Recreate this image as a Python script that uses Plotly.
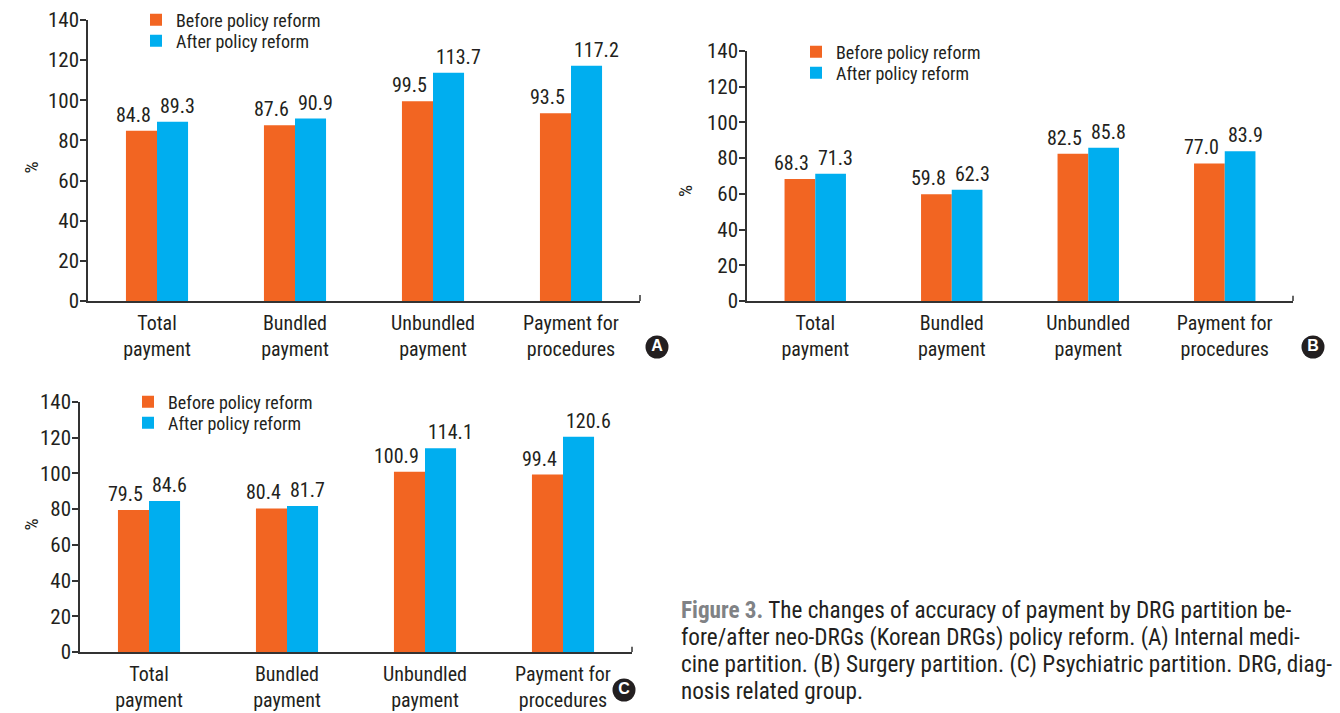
import plotly.graph_objects as go

categories = ["Total<br>payment", "Bundled<br>payment", "Unbundled<br>payment", "Payment for<br>procedures"]
a_before = [84.8, 87.6, 99.5, 93.5]
a_after = [89.3, 90.9, 113.7, 117.2]
b_before = [68.3, 59.8, 82.5, 77.0]
b_after = [71.3, 62.3, 85.8, 83.9]
c_before = [79.5, 80.4, 100.9, 99.4]
c_after = [84.6, 81.7, 114.1, 120.6]
y_ticks = [0, 20, 40, 60, 80, 100, 120, 140]
series_names = ["Before policy reform", "After policy reform"]
panel_letters = ["A", "B", "C"]

W, H = 1340, 713
FONT = "Liberation Sans Narrow, Roboto Condensed, Arial Narrow, Liberation Sans, sans-serif"
TXT = "#231f20"
ORANGE = "#F26522"
BLUE = "#00AEEF"

def px(x):
    return x / W

def py(y):
    return 1 - y / H

fig = go.Figure()

panels = [
    ("x", "y", ("legend", "legend2"), a_before, a_after),
    ("x2", "y2", ("legend3", "legend4"), b_before, b_after),
    ("x3", "y3", ("legend5", "legend6"), c_before, c_after),
]
for xa, ya, lgs, bef, aft in panels:
    for name, vals, col, lg, anch, shift in [
        (series_names[0], bef, ORANGE, lgs[0], "right", -4),
        (series_names[1], aft, BLUE, lgs[1], "left", 1),
    ]:
        fig.add_trace(go.Bar(
            x=categories, y=vals, name=name, marker_color=col, marker_line_width=0,
            xaxis=xa, yaxis=ya, legend=lg, hoverinfo="x+y",
        ))
        # value labels, anchored at data coordinates
        for c, v in zip(categories, vals):
            fig.add_annotation(
                x=c, y=v, xref=xa, yref=ya, text="%.1f" % v, showarrow=False,
                xanchor=anch, yanchor="bottom", xshift=shift, yshift=2,
                font=dict(size=20, color=TXT, family=FONT),
            )

# panel letter badges on an invisible overlay axis (pixel-like coordinates)
fig.add_trace(go.Scatter(
    x=[657, 1313, 624], y=[347, 347, 690], mode="markers+text", text=["<b>%s</b>" % l for l in panel_letters],
    textposition="middle center", marker=dict(size=23, color="#231f20"),
    textfont=dict(size=16, color="white", family="Liberation Sans, Arial, sans-serif"),
    xaxis="x4", yaxis="y4", showlegend=False, hoverinfo="skip", cliponaxis=False,
))

domains = {
    "": ([px(88), px(640)], [py(301), py(20)]),
    "2": ([px(747), px(1293)], [py(301), py(51)]),
    "3": ([px(80), px(632)], [py(652), py(402)]),
}
layout = dict(
    width=W, height=H, margin=dict(l=0, r=0, t=0, b=0, autoexpand=False),
    paper_bgcolor="white", plot_bgcolor="rgba(0,0,0,0)",
    barmode="group", bargap=0.55, bargroupgap=0,
    font=dict(family=FONT, color=TXT, size=20),
)
for k, (dx, dy) in domains.items():
    layout["xaxis" + k] = dict(
        domain=dx, anchor="y" + k, type="category", range=[-0.5, 3.5],
        showline=True, linecolor="#333333", linewidth=1.5, ticks="",
        showgrid=False, tickfont=dict(size=20, color=TXT, family=FONT), fixedrange=True,
        automargin=False, ticklabelstandoff=3,
    )
    layout["yaxis" + k] = dict(
        domain=dy, anchor="x" + k, range=[0, 140], tickvals=y_ticks,
        showline=True, linecolor="#333333", linewidth=1.5, ticks="outside",
        ticklen=6, tickcolor="#333333", tickwidth=1.5, showgrid=False, zeroline=False,
        ticklabelstandoff=-3, automargin=False,
        tickfont=dict(size=21, color=TXT, family=FONT), fixedrange=True,
    )
layout["xaxis4"] = dict(domain=[0, 1], range=[0, W], visible=False, fixedrange=True, anchor="y4", automargin=False)
layout["yaxis4"] = dict(domain=[0, 1], range=[H, 0], visible=False, fixedrange=True, anchor="x4", automargin=False)

leg_common = dict(orientation="v", bgcolor="rgba(0,0,0,0)", font=dict(size=18, color=TXT, family=FONT),
                  xanchor="left", yanchor="middle", tracegroupgap=0, itemwidth=30)
legend_pos = {
    "legend": (136, 20), "legend2": (136, 41),
    "legend3": (796, 52), "legend4": (796, 73),
    "legend5": (128, 402), "legend6": (128, 423),
}
for name, (lx, ly) in legend_pos.items():
    layout[name] = dict(x=px(lx), y=py(ly), **leg_common)
fig.update_layout(**layout)

# small end ticks on the right end of x axes
for k in ["", "2", "3"]:
    fig.add_shape(type="line", xref=("x" + k if k else "x") + " domain", yref="y" + k,
                  x0=1, x1=1, y0=0, y1=3, line=dict(color="#333333", width=1.5))

# % titles
for xp, yp in [(17, 160), (686, 183), (17, 533)]:
    fig.add_annotation(x=px(xp), y=py(yp), xref="paper", yref="paper", text="%",
                       textangle=-90, showarrow=False, font=dict(size=19, color=TXT, family=FONT))

caption_lines = [
    "<b><span style='color:#808285'>Figure 3.</span></b> The changes of accuracy of payment by DRG partition be-",
    "fore/after neo-DRGs (Korean DRGs) policy reform. (A) Internal medi-",
    "cine partition. (B) Surgery partition. (C) Psychiatric partition. DRG, diag-",
    "nosis related group.",
]
for i, line in enumerate(caption_lines):
    fig.add_annotation(x=px(679), y=py(610 + 27 * i), xref="paper", yref="paper", text=line,
                       showarrow=False, xanchor="left", yanchor="middle",
                       font=dict(size=23.2, color=TXT, family=FONT))

fig.write_html("out.html")
